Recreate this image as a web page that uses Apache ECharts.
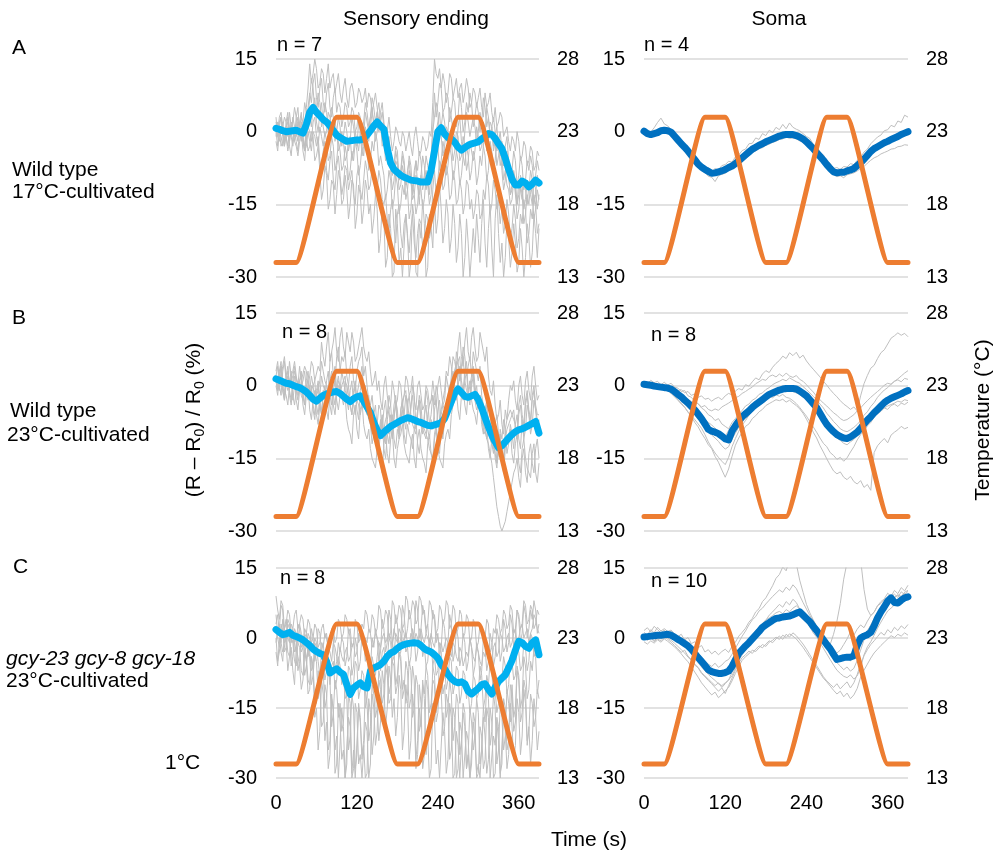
<!DOCTYPE html>
<html>
<head>
<meta charset="utf-8">
<script src="https://cdn.jsdelivr.net/npm/echarts@6/dist/echarts.min.js"></script>
<style>
html,body{margin:0;padding:0;background:#fff}
#chart{width:999px;height:862px}
</style>
</head>
<body>
<div id="chart"></div>
<script>
// Every trace spans 0 … 390 s with evenly spaced samples
// (sensory-ending traces every 2.5 s, soma traces and means every 5 s).
const T_END = 390;

// Stimulus: temperature ramp keypoints (s, °C)
const TEMP_TIME = [0, 30, 90, 120, 180, 210, 270, 300, 360, 390];
const TEMP_C    = [14, 14, 24, 24, 14, 14, 24, 24, 14, 14];

const X_TICKS = [0, 120, 240, 360];
const RATIO_TICKS = [-30, -15, 0, 15];
const TEMP_TICKS = [13, 18, 23, 28];

// ---------- A: wild type, 17°C-cultivated ----------
const MEAN_A_END = [
  0.7,0.5,0.2,0,0.1,0.2,0.3,0,-0.3,1.5,
  4,5,4,3.3,2.5,2,1.2,0.2,-0.7,-1.2,
  -1.6,-2,-1.9,-1.8,-1.7,-1.7,-1.5,-0.7,0.2,1.2,
  2,1.2,0.5,-3.5,-6.5,-7.8,-8.4,-9,-9.4,-9.7,
  -10,-10.1,-10.2,-10.4,-10.4,-10.4,-8,-4,0,0.8,
  -0.5,-1.2,-1.5,-2.2,-3.2,-3.8,-3.3,-2.8,-2.5,-2.3,
  -2.1,-1.5,-1,-0.4,-0.6,-1.4,-2.5,-3.5,-5.5,-7.8,
  -9.8,-11,-11,-10.2,-10.6,-11.4,-10.8,-10,-10.6
];
const TRACES_A_END = [
  [2,0,3,4,1,3,2,-1,4,1,2,5,3,0,1,3,2,0,5,9,
   14,10,12,15,13,9,10,13,12,8,11,14,9,11,12,8,10,12,8,6,
   9,11,7,5,9,10,8,5,6,9,8,6,7,9,5,8,7,4,6,8,
   5,2,4,6,2,-1,0,3,-1,-4,-2,1,0,-2,-3,0,-1,-4,-2,0,
   -3,-5,-1,1,-2,-5,-4,-1,-2,-4,-3,0,-1,6,15,12,11,13,9,12,
   10,6,8,12,11,7,9,11,7,9,10,6,8,11,9,5,6,9,8,5,
   7,9,5,3,8,5,6,8,4,2,5,1,2,4,3,-1,0,1,-2,-4,
   -1,-2,-4,0,-2,-6,-5,-2,-3,-7,-6,-3,-4,-8,-7,-4,-5],
  [1,2,-1,0,2,-2,0,3,1,-1,3,1,0,-2,2,4,-1,-3,1,5,
   8,6,10,12,7,5,9,11,6,4,8,10,5,3,7,9,4,6,5,1,
   3,6,5,1,2,5,4,0,1,4,3,0,2,6,4,1,3,7,5,2,
   4,6,2,-1,-3,-1,-6,-2,-5,-9,-8,-4,-6,-10,-9,-5,-7,-11,-8,-6,
   -10,-13,-8,-6,-11,-13,-9,-5,-7,-12,-10,-7,-6,1,8,3,6,10,9,4,
   5,8,7,2,4,7,6,1,3,8,5,0,2,6,4,8,6,1,3,6,
   4,0,2,7,5,1,3,-1,1,-4,-2,-7,-5,-3,-8,-12,-10,-6,-9,-13,
   -12,-8,-10,-15,-13,-9,-11,-16,-14,-10,-12,-8,-10,-15,-13,-9,-11],
  [3,-1,1,3,0,-2,2,4,-1,2,1,-1,3,5,0,-2,2,6,4,3,
   7,11,9,4,5,8,6,1,3,6,4,0,2,5,3,-2,0,3,1,-3,
   -1,2,0,-4,-2,3,1,-2,-3,2,0,-3,-1,4,2,0,3,5,1,2,
   4,0,2,4,1,-3,-4,-1,-5,-9,-7,-3,-4,-10,-8,-4,-6,-11,-9,-5,
   -7,-12,-10,-6,-8,-4,-6,-11,-9,-5,-7,-9,-5,0,3,6,4,-1,1,4,
   2,-2,0,5,3,0,-1,-4,1,3,-2,-5,0,4,2,-1,-1,3,1,-2,
   0,4,2,-3,-1,5,3,-1,1,3,0,-4,-2,0,-4,-7,-3,-1,-6,-10,
   -8,-4,-6,-11,-9,-5,-7,-12,-10,-6,-8,-5,-7,-11,-9,-6,-8],
  [0,-3,2,3,-1,-3,1,2,-2,1,0,-2,1,3,-1,1,-2,-4,0,2,
   3,1,5,7,2,0,4,6,1,-1,0,4,3,1,-1,2,0,-4,-3,0,
   -2,-6,-5,-2,-1,-6,-4,0,-2,-4,0,-5,-3,1,-1,-2,1,4,2,-2,
   0,3,2,-3,-2,-6,-5,-3,-8,-12,-10,-6,-7,-12,-11,-7,-9,-14,-12,-8,
   -10,-14,-13,-9,-11,-15,-9,-12,-12,-8,-10,-13,-8,-5,-2,0,2,4,-1,-5,
   -3,1,0,-4,-2,-6,-4,0,-1,-6,-5,-1,-3,-8,-6,-2,-2,-6,-4,1,
   -1,-4,-3,2,0,-4,-2,2,1,-3,-1,1,-3,-5,-2,-7,-6,-4,-9,-13,
   -11,-9,-13,-15,-10,-12,-14,-10,-12,-15,-11,-13,-15,-10,-12,-16,-13],
  [-1,2,0,-3,-2,0,-1,-3,0,-1,-3,0,-1,2,1,-1,-2,-4,-1,1,
   0,-2,2,3,-1,-3,1,-1,-3,0,-2,-6,-5,-1,-3,-8,-6,-2,-4,-8,
   -7,-3,-5,-10,-8,-4,-6,-2,-4,-9,-7,-3,-5,-1,-3,-8,-6,-2,-4,0,
   -2,-7,-5,-7,-9,-14,-12,-8,-10,-16,-14,-9,-11,-17,-15,-11,-13,-10,-12,-18,
   -16,-11,-13,-17,-15,-10,-12,-16,-14,-9,-11,-15,-13,-8,-5,-1,-3,-8,-6,-2,
   -4,-9,-7,-3,-5,-10,-8,-4,-6,-11,-9,-5,-7,-3,-5,-10,-8,-4,-6,-11,
   -9,-5,-7,-3,-5,-10,-8,-2,-4,-8,-6,-1,-3,-7,-5,-10,-8,-11,-12,-15,
   -14,-10,-12,-18,-16,-11,-13,-19,-17,-13,-15,-11,-13,-18,-16,-12,-14],
  [1,-1,-2,1,0,-3,-1,1,-3,-5,-1,0,-2,-4,0,2,-1,-4,-3,0,
   -2,-4,0,-1,-3,-1,-6,-8,-4,-2,-8,-10,-6,-4,-10,-12,-7,-5,-9,-13,
   -11,-7,-8,-12,-10,-8,-13,-15,-9,-7,-12,-14,-10,-6,-8,-12,-11,-7,-9,-13,
   -12,-8,-10,-14,-15,-13,-18,-21,-16,-14,-20,-23,-17,-15,-21,-24,-19,-17,-22,-25,
   -20,-17,-23,-26,-21,-18,-19,-24,-22,-17,-18,-22,-20,-12,-8,-13,-10,-6,-7,-12,
   -11,-7,-9,-14,-13,-8,-10,-15,-14,-10,-12,-17,-15,-10,-11,-16,-14,-18,-16,-12,
   -13,-18,-17,-12,-14,-9,-11,-17,-15,-10,-12,-16,-14,-19,-16,-21,-19,-14,-17,-22,
   -20,-15,-18,-24,-22,-17,-19,-14,-16,-23,-21,-16,-18,-13,-15,-21,-19],
  [-2,-4,0,-1,-3,0,-1,-4,-2,1,0,-2,-3,-5,-2,0,-4,-6,-1,-4,
   -3,0,-1,-6,-5,-3,-8,-14,-12,-7,-9,-16,-14,-10,-11,-17,-13,-8,-10,-15,
   -14,-9,-12,-18,-15,-10,-11,-20,-17,-11,-13,-19,-16,-10,-12,-17,-15,-21,-18,-13,
   -16,-25,-22,-15,-18,-28,-26,-17,-20,-30,-29,-16,-19,-27,-24,-30,-30,-17,-21,-30,
   -27,-15,-18,-29,-30,-19,-22,-14,-19,-30,-28,-17,-20,-24,-14,-21,-18,-11,-16,-23,
   -20,-14,-17,-25,-22,-15,-19,-27,-24,-17,-21,-30,-26,-18,-23,-30,-30,-20,-25,-17,
   -22,-27,-19,-14,-23,-28,-20,-15,-24,-30,-18,-13,-21,-27,-23,-30,-26,-18,-22,-28,
   -25,-19,-23,-29,-27,-20,-24,-30,-26,-19,-22,-28,-25,-17,-21,-26,-20]
];

const MEAN_A_SOMA = [
  0.1,-0.4,-0.6,-0.4,-0.2,0.2,0.3,0.2,-0.1,-0.9,
  -1.7,-2.5,-3.2,-4,-4.9,-5.8,-6.7,-7.3,-7.8,-8.2,
  -8.6,-8.5,-8.3,-8.1,-7.8,-7.4,-7.1,-6.6,-6,-5.4,
  -4.8,-4.2,-3.6,-3.2,-2.8,-2.5,-2.1,-1.8,-1.5,-1.2,
  -0.9,-0.7,-0.6,-0.6,-0.6,-0.8,-1.1,-1.5,-2.1,-2.8,
  -3.5,-4.3,-5.1,-5.9,-6.8,-7.6,-8.3,-8.5,-8.4,-8.4,
  -8.1,-7.9,-7.6,-7,-6.4,-5.7,-4.9,-4.1,-3.5,-3.1,
  -2.7,-2.3,-2,-1.6,-1.3,-1,-0.6,-0.3,0
];
const TRACES_A_SOMA = [
  [0.6,0.2,-0.1,0.8,1.9,2.8,1.6,1.2,0.4,-0.3, -1.0,-1.6,-2.8,-3.3,-4.6,-5.0,-6.2,-6.6,-7.5,-7.4, -8.2,-7.6,-7.9,-7.0,-6.8,-6.1,-6.3,-5.2,-4.8,-3.9,
   -3.6,-2.5,-2.4,-1.3,-1.6,-0.4,-0.8,0.3,-0.2,0.9, 0.4,1.5,0.6,1.8,0.9,0.5,0.2,-0.4,-1.0,-1.4, -2.6,-3.1,-4.4,-4.8,-6.1,-6.5,-7.6,-7.4,-7.8,-7.2,
   -7.3,-6.6,-6.8,-5.9,-5.3,-4.2,-3.6,-2.5,-1.8,-1.1, -0.7,0.2,0.4,1.3,1.0,2.2,1.9,3.4,3.0],
  [-0.2,-0.8,-0.5,-1.0,-0.4,-0.3,0.1,-0.4,-0.6,-1.5, -2.2,-3.1,-3.6,-4.7,-5.3,-6.5,-7.0,-8.1,-8.3,-9.2, -9.4,-10.3,-9.1,-8.8,-8.6,-8.0,-7.8,-7.1,-6.9,-6.2,
   -5.6,-5.0,-4.3,-4.0,-3.5,-3.3,-2.8,-2.6,-2.2,-2.0, -1.6,-1.5,-1.1,-1.4,-1.3,-1.5,-1.9,-2.2,-2.9,-3.4, -4.1,-5.0,-5.6,-6.6,-7.3,-8.2,-8.8,-9.3,-9.1,-9.5,
   -8.9,-8.7,-8.5,-8.1,-7.6,-7.2,-6.5,-5.9,-5.4,-5.1, -4.6,-4.3,-4.0,-3.6,-3.5,-3.1,-3.0,-2.7,-2.8],
  [0.3,-0.2,-0.9,-0.1,-0.6,0.5,0.0,0.6,0.2,-0.6, -1.4,-2.2,-3.5,-3.7,-4.5,-5.6,-6.4,-7.5,-7.6,-8.5, -8.9,-8.3,-8.7,-8.4,-7.5,-7.6,-6.8,-6.9,-5.7,-5.6,
   -4.5,-4.4,-3.3,-3.5,-2.5,-2.8,-1.8,-2.1,-1.2,-1.5, -0.6,-1.0,-0.3,-0.9,-0.2,-1.1,-0.8,-1.8,-1.8,-3.1, -3.2,-4.6,-4.8,-6.2,-6.5,-7.9,-8.0,-8.8,-8.1,-8.7,
   -7.8,-8.2,-7.3,-7.3,-6.1,-6.0,-4.6,-4.4,-3.2,-3.4, -2.4,-2.6,-1.7,-1.9,-1.0,-1.3,-0.3,-0.6,0.3],
  [-0.3,-0.7,-0.4,-0.7,0.1,-0.1,0.5,-0.2,-0.4,-1.2, -2.1,-2.7,-3.0,-4.3,-5.2,-6.0,-7.1,-7.0,-8.1,-8.0, -8.9,-8.7,-8.6,-8.3,-8.2,-7.7,-7.4,-6.4,-6.3,-5.9,
   -5.1,-4.6,-3.9,-3.0,-2.9,-2.3,-2.4,-1.6,-1.7,-0.9, -1.2,-0.5,-0.8,-0.4,-0.7,-0.6,-1.3,-1.4,-2.4,-2.6, -3.8,-4.1,-5.4,-5.7,-7.1,-7.4,-8.6,-8.3,-8.7,-8.2,
   -8.4,-7.7,-7.9,-6.8,-6.6,-5.5,-5.1,-3.9,-3.6,-2.9, -2.9,-2.1,-2.2,-1.4,-1.5,-0.8,-0.9,-0.1,-0.3]
];

// ---------- B: wild type, 23°C-cultivated ----------
const MEAN_B_END = [
  1.4,1.1,0.8,0.5,0.4,0.1,-0.2,-0.4,-0.8,-1.3,
  -2.0,-2.8,-3.2,-2.6,-2.0,-1.7,-1.5,-1.3,-1.2,-1.6,
  -2.2,-2.8,-3.3,-2.7,-2.3,-2.1,-3.2,-4.4,-5.6,-7.6,
  -9.2,-10.3,-9.6,-9.0,-8.4,-8.0,-7.6,-7.2,-6.9,-6.6,
  -6.8,-7.1,-7.4,-7.6,-7.9,-8.2,-8.3,-8.1,-7.9,-7.6,
  -6.8,-5.0,-3.3,-1.5,-0.7,-1.4,-2.2,-2.4,-2.1,-1.8,
  -2.9,-4.6,-6.6,-8.5,-10.2,-11.6,-12.8,-12.4,-11.6,-10.8,
  -10.1,-9.5,-9.1,-8.9,-8.6,-8.2,-7.8,-7.4,-9.8
];
const TRACES_B_END = [
  [3,5,1,2,4,6,2,0,5,2,3,5,2,0,4,1,1,4,3,0,
   2,5,4,1,1,4,3,9,6,4,8,11,5,7,9,12,7,5,10,12,
   8,6,11,9,7,11,9,5,6,8,10,12,8,6,5,7,3,0,1,3,
   -1,1,-3,-5,0,2,-2,-5,-4,1,-1,-4,-3,1,0,-4,-2,2,1,-2,
   -1,2,-3,-5,0,1,-2,-5,-4,0,-1,-4,-3,1,-2,-4,0,2,-1,-4,
   -3,2,0,-2,2,6,5,3,8,11,6,4,9,12,7,5,10,12,8,5,
   6,11,9,7,5,8,2,-1,-2,1,-4,-7,-6,-3,-8,-10,-5,-7,-3,0,
   -1,1,-3,-5,0,2,-2,-4,1,3,-1,-3,2,4,0,-3,-2],
  [1,-1,3,5,0,-2,2,4,-1,-3,1,3,3,0,0,2,-2,-4,1,3,
   -1,2,0,-3,-3,-1,1,5,3,1,0,-2,5,7,2,0,6,8,3,6,
   5,7,2,0,4,6,1,-1,3,5,6,8,2,4,0,-3,-4,-2,-6,-10,
   -8,-4,-5,-11,-9,-7,-6,-2,-4,-9,-7,-3,-5,-10,-8,-4,-6,-2,-3,-7,
   -5,0,-2,-8,-6,-2,-4,-9,-7,-1,-3,-8,-6,-2,-4,0,-2,-7,-5,-3,
   -1,3,2,6,4,0,1,7,5,1,3,8,6,2,4,6,2,7,5,3,
   1,4,-2,-4,-5,-3,-9,-11,-12,-14,-10,-16,-14,-9,-11,-7,-9,-14,-12,-8,
   -10,-13,-8,-6,-11,-13,-7,-11,-9,-4,-6,-10,-8,-3,-5,-9,-7],
  [2,0,-1,3,1,-1,-2,-4,0,2,-3,0,-1,-3,1,3,-2,-4,0,-1,
   -3,-1,-5,-7,-2,0,-4,-6,-1,-3,1,3,-2,-4,2,4,-1,1,0,-2,
   -3,1,0,-2,-4,-6,-2,0,-5,-7,-1,1,-3,-5,-6,-4,-8,-12,-10,-8,
   -12,-14,-9,-7,-13,-15,-10,-12,-8,-6,-11,-13,-9,-11,-7,-5,-10,-12,-8,-10,
   -11,-13,-9,-7,-12,-14,-10,-8,-8,-10,-11,-13,-13,-15,-10,-8,-12,-14,-9,-11,
   -7,-5,-4,-2,-1,1,3,5,0,2,4,6,1,-1,-2,0,2,4,0,-2,
   -3,-5,-6,-8,-9,-11,-12,-14,-16,-19,-22,-25,-27,-29,-30,-30,-28,-26,-24,-22,
   -20,-18,-17,-15,-19,-21,-15,-13,-18,-20,-14,-12,-16,-18,-13,-11,-15],
  [0,-2,2,4,-1,-3,1,3,-2,-4,0,2,-3,-5,-1,1,-4,-6,-2,0,
   -5,-7,-3,-1,-6,-8,-4,-6,-2,0,-5,-7,-1,1,-4,-6,-2,0,0,-2,
   -4,-2,-7,-9,-10,-12,-6,-4,-9,-11,-5,-3,-8,-10,-11,-9,-13,-15,-15,-17,
   -13,-11,-16,-18,-12,-10,-14,-16,-11,-9,-15,-17,-13,-11,-10,-8,-12,-14,-14,-16,
   -12,-10,-15,-17,-11,-9,-13,-15,-16,-18,-12,-10,-14,-16,-11,-9,-13,-15,-15,-17,
   -12,-10,-9,-11,-6,-4,-3,-1,-5,-7,-2,0,-4,-6,-1,1,-3,-5,-6,-8,
   -4,-2,-7,-9,-10,-8,-13,-15,-11,-9,-15,-17,-12,-10,-16,-18,-13,-11,-11,-9,
   -14,-16,-12,-10,-16,-18,-13,-11,-15,-17,-17,-19,-14,-12,-18,-20,-16],
  [2,4,0,-2,3,5,1,-1,-1,1,2,4,0,-2,-2,0,1,3,-1,-3,
   -3,-1,-1,1,-4,-6,-2,2,0,-1,-3,-1,1,3,-2,-4,0,2,-1,3,
   1,-1,-2,0,-4,-6,-1,1,-3,-4,-6,-4,-2,0,-5,-7,-8,-10,-6,-4,
   -9,-11,-7,-9,-5,-3,-8,-10,-6,-8,-4,-2,-7,-9,-5,-3,-3,-1,-6,-8,
   -4,-2,-7,-9,-5,-3,-8,-10,-6,-4,-9,-11,-7,-9,-5,-3,-8,-10,-6,-4,
   -4,-6,-2,0,1,3,-1,-3,2,4,-1,-3,1,3,-2,-4,0,2,-3,-5,
   -5,-3,-8,-10,-6,-4,-9,-11,-11,-13,-8,-6,-10,-12,-13,-15,-9,-7,-7,-5,
   -5,-7,-8,-10,-4,-2,-6,-8,-3,-1,-5,-7,-2,0,-4,-6,-6],
  [1,-1,2,4,-1,-3,0,2,1,3,-2,-4,-1,1,0,-2,-3,-1,-1,1,
   -2,0,-4,-6,-1,1,-3,-5,-5,-3,-2,0,-4,-6,-1,1,-3,-5,-2,0,
   0,2,-3,-5,-1,1,-4,-6,-2,0,2,4,-1,-3,-4,-2,-6,-8,-9,-11,
   -11,-13,-8,-6,-10,-12,-7,-5,-9,-11,-6,-4,-8,-10,-5,-3,-7,-9,-4,-2,
   -6,-8,-8,-10,-5,-3,-7,-9,-9,-11,-6,-4,-4,-2,-7,-9,-5,-3,-8,-10,
   -6,-4,-3,-1,0,2,2,4,4,6,1,-1,3,5,-1,-3,1,3,-2,0,
   -4,-2,-6,-8,-9,-11,-7,-5,-10,-12,-14,-16,-12,-10,-15,-17,-11,-9,-9,-7,
   -7,-5,-9,-11,-6,-4,-8,-10,-4,-2,-6,-8,-3,-1,-5,-7,-8]
];

const MEAN_B_SOMA = [
  0.3,0.2,0.1,-0.1,-0.2,-0.3,-0.4,-0.5,-0.7,-1.2,
  -1.8,-2.3,-3.0,-3.6,-4.3,-5.0,-5.9,-6.8,-7.9,-9.0,
  -9.4,-9.6,-9.9,-10.4,-11.0,-11.2,-9.4,-8.3,-7.3,-6.4,
  -5.8,-5.2,-4.5,-3.9,-3.4,-2.9,-2.3,-1.8,-1.5,-1.2,
  -0.9,-0.7,-0.6,-0.6,-0.6,-0.7,-1.1,-1.6,-2.1,-2.9,
  -3.7,-4.5,-5.7,-6.9,-8.0,-8.8,-9.5,-10.1,-10.5,-10.8,
  -10.9,-10.6,-10.1,-9.6,-8.8,-7.9,-7.1,-6.4,-5.6,-4.9,
  -4.2,-3.5,-3.0,-2.6,-2.3,-2.0,-1.7,-1.3,-1.0
];
const TRACES_B_SOMA = [
  [0.2,-0.3,0.5,-0.1,0.3,-0.5,0.1,-0.2,-0.6,-0.4, -1.1,-0.8,-1.5,-1.2,-2.0,-1.7,-2.4,-2.1,-2.8,-2.6, -3.2,-2.7,-2.4,-2.9,-2.1,-1.6,-1.9,-1.1,-0.6,-0.9,
   0.2,-0.1,0.8,1.6,1.2,2.4,3.1,2.7,3.8,4.6, 5.2,6.1,5.6,6.8,6.2,6.9,5.7,6.3,5.1,4.2, 3.4,2.6,1.8,0.9,0.1,-0.8,-1.6,-2.3,-3.1,-3.8,
   -4.3,-4.9,-4.4,-5.2,-2.1,0.4,2.1,3.6,4.2,5.6, 6.8,7.4,8.6,9.8,10.3,10.9,10.4,10.8,10.1],
  [0.5,0.1,0.3,-0.4,0.2,-0.2,-0.6,-0.3,-0.9,-1.4, -1.9,-1.6,-2.5,-2.9,-3.3,-3.1,-3.8,-4.4,-4.1,-4.9, -5.2,-4.8,-5.1,-4.4,-4.0,-3.6,-3.1,-2.5,-2.2,-1.6,
   -1.2,-0.7,-0.3,0.4,0.8,1.3,1.1,1.9,2.2,1.8, 2.4,1.9,2.6,2.0,1.7,2.1,1.3,0.9,0.2,-0.6, -1.3,-2.2,-2.9,-3.6,-4.2,-4.9,-5.6,-6.1,-6.8,-7.2,
   -7.0,-6.5,-6.0,-5.2,-4.6,-3.8,-3.1,-2.4,-1.8,-1.2, -0.6,0.1,0.5,0.3,0.9,1.2,0.8,1.5,1.3],
  [0.8,0.4,1.1,0.6,0.9,0.2,0.7,0.1,0.5,-0.3, -0.5,-1.2,-1.0,-2.1,-2.4,-3.3,-3.7,-4.6,-5.1,-6.0, -6.4,-7.2,-6.8,-7.9,-8.4,-8.9,-7.6,-6.8,-5.9,-5.1,
   -4.2,-3.8,-3.0,-2.6,-1.8,-1.5,-0.8,-0.4,0.2,0.6, 0.9,1.3,1.0,1.6,1.2,0.8,0.5,-0.2,-0.8,-1.5, -2.2,-2.9,-3.8,-4.6,-5.7,-6.5,-7.4,-8.1,-8.9,-9.3,
   -9.5,-9.1,-8.6,-8.0,-7.2,-6.1,-5.4,-4.3,-3.5,-2.4, -1.6,-0.9,-0.4,0.3,0.9,1.4,2.0,2.6,3.1],
  [0.1,0.4,-0.2,0.2,-0.4,-0.1,-0.6,-0.3,-0.9,-1.3, -2.1,-2.6,-3.3,-3.9,-4.8,-5.4,-6.5,-7.1,-8.3,-9.4, -10.2,-10.8,-11.5,-12.4,-13.1,-12.6,-11.0,-9.8,-8.6,-7.5,
   -6.8,-6.1,-5.2,-4.6,-4.0,-3.6,-3.1,-2.4,-2.1,-1.6, -1.5,-1.1,-1.3,-0.9,-1.2,-1.5,-1.8,-2.4,-2.9,-3.6, -4.5,-5.2,-6.4,-7.5,-8.6,-9.4,-10.1,-10.8,-11.3,-11.9,
   -12.2,-11.6,-11.1,-10.4,-9.7,-8.8,-8.0,-7.1,-6.3,-5.8, -5.1,-4.6,-4.2,-3.9,-3.6,-3.2,-3.4,-2.9,-3.1],
  [-0.2,0.3,-0.5,-0.1,-0.8,-0.4,-1.1,-0.7,-1.5,-2.1, -2.9,-3.6,-4.4,-5.5,-6.3,-7.6,-8.5,-9.8,-10.9,-12.2, -13.0,-14.6,-15.8,-17.4,-18.9,-17.2,-14.6,-12.3,-10.8,-9.6,
   -8.4,-7.9,-6.8,-6.2,-5.4,-4.9,-4.1,-3.7,-3.3,-2.9, -3.1,-2.8,-3.4,-3.0,-3.6,-4.1,-4.8,-5.7,-6.9,-8.2, -9.6,-10.8,-12.4,-13.7,-15.1,-16.4,-17.6,-18.2,-17.8,-18.9,
   -19.4,-18.7,-19.8,-20.3,-19.6,-21.0,-20.4,-21.6,-13.8,-12.4, -11.6,-10.9,-11.8,-10.2,-9.6,-9.1,-8.4,-8.9,-8.6],
  [0.4,-0.1,0.2,-0.5,0.1,-0.7,-0.3,-1.0,-1.6,-2.3, -3.0,-3.8,-4.5,-5.4,-6.2,-7.0,-7.9,-8.8,-10.1,-11.6, -12.8,-13.9,-14.8,-15.6,-16.3,-14.8,-12.6,-10.9,-9.4,-8.1,
   -7.2,-6.1,-5.3,-4.4,-3.8,-3.1,-2.8,-2.2,-2.5,-1.9, -2.2,-1.8,-2.4,-2.6,-3.1,-3.7,-4.5,-5.4,-6.3,-7.4, -8.5,-9.6,-10.8,-11.9,-12.6,-13.8,-14.4,-15.2,-14.8,-15.6,
   -14.9,-13.7,-12.6,-11.2,-10.1,-9.4,-8.3,-7.6,-6.4,-5.8, -5.3,-4.6,-4.9,-4.1,-3.8,-4.3,-3.6,-3.9,-3.4],
  [0.6,0.2,0.7,0.1,0.4,-0.2,0.3,-0.5,-0.1,-0.8, -1.3,-1.9,-2.4,-3.1,-3.8,-4.3,-5.2,-5.8,-6.9,-7.6, -8.1,-8.8,-9.4,-9.9,-10.5,-9.2,-8.4,-7.6,-7.0,-6.3,
   -5.6,-4.8,-4.2,-3.7,-3.3,-2.8,-2.4,-1.9,-1.6,-1.2, -1.0,-0.6,-0.9,-0.4,-0.8,-1.1,-1.6,-2.2,-2.8,-3.6, -4.1,-5.0,-5.9,-6.8,-7.6,-8.3,-9.0,-9.6,-10.1,-10.4,
   -10.3,-10.0,-9.7,-9.1,-8.6,-7.9,-7.2,-6.3,-5.6,-4.9, -4.2,-3.6,-3.1,-2.6,-2.2,-1.8,-1.5,-1.1,-0.8]
];

// ---------- C: gcy-23 gcy-8 gcy-18, 23°C-cultivated ----------
const MEAN_C_END = [
  1.8,1.2,0.7,0.9,1.2,0.6,0.3,0,-0.4,-1.0,
  -1.6,-2.4,-2.9,-3.3,-3.6,-5.0,-7.5,-7.0,-6.6,-7.3,
  -7.8,-10.0,-12.1,-10.7,-10.1,-9.6,-10.4,-10.7,-7.1,-6.4,
  -6.1,-5.7,-5.0,-3.9,-3.2,-2.9,-2.2,-1.7,-1.4,-1.2,
  -1.1,-1.0,-1.1,-1.6,-2.3,-2.7,-3.0,-3.6,-4.3,-5.7,
  -6.6,-7.8,-8.7,-9.3,-9.6,-9.4,-9.8,-11.4,-12.0,-11.4,
  -10.8,-10.0,-9.8,-11.0,-12.0,-10.5,-9.3,-8.6,-7.9,-6.4,
  -4.8,-2.6,-0.7,-1.0,-1.8,-2.2,-1.0,-0.4,-3.6
];
const TRACES_C_END = [
  [9,6,4,8,7,2,3,6,5,1,2,5,6,2,3,5,4,0,1,4,
   3,-1,0,3,2,-2,-1,2,3,0,1,-3,-2,1,2,-1,0,4,3,0,
   1,5,4,1,2,-2,-1,4,3,-1,0,3,2,6,5,2,1,5,4,1,
   2,7,6,2,3,6,5,0,1,8,7,3,4,7,6,2,3,9,8,4,
   5,8,7,3,4,9,8,5,6,2,3,8,7,4,5,1,2,7,6,3,
   4,8,7,2,3,7,6,1,2,6,5,0,1,5,4,-1,0,4,3,-2,
   -1,3,2,-1,0,4,3,-3,-2,2,1,5,4,1,2,6,5,2,3,7,
   6,1,2,6,5,2,3,8,7,3,4,7,6,2,3,6,5],
  [3,5,1,-1,4,2,0,3,2,0,-1,2,1,-1,3,1,0,-3,-2,1,
   0,-2,-3,0,-1,-3,-4,-1,-2,1,0,-2,-3,-5,-1,-2,-4,-6,-2,-4,
   -5,-3,-2,-5,-4,-2,-1,-4,-3,1,0,-1,-2,0,-1,2,1,-2,-1,1,
   0,-1,-2,0,1,-1,-1,1,0,-2,2,0,-1,2,1,-1,0,1,-1,-2,
   1,0,-1,1,0,-2,2,0,-1,1,0,-1,1,-1,-2,1,0,-2,-1,-3,
   -3,0,-1,-3,-4,-1,-2,-4,-5,-2,-3,-6,-6,-3,-4,0,-2,-4,-5,-2,
   -3,-5,-6,-3,-4,-1,-2,-6,-5,-2,-1,-4,-3,1,0,-3,-2,0,1,-2,
   -1,1,2,-1,0,2,3,0,1,2,-1,1,2,5,4,2,1],
  [2,0,-2,3,1,2,4,0,-1,3,2,-1,-3,1,0,-3,-2,-1,-5,-2,
   -3,-7,-6,-1,-2,-5,-8,-3,-4,-9,-7,-4,-10,-6,-5,-11,-9,-4,-6,-10,
   -8,-13,-12,-6,-7,-12,-10,-5,-6,-13,-11,-7,-8,-15,-13,-8,-9,-4,-6,-8,
   -4,-1,-7,-3,-2,-6,-5,0,-1,-5,-4,1,0,-4,-3,2,1,-3,-2,-6,
   -4,2,0,-5,-3,2,1,-4,-2,-6,-5,0,-1,-6,-4,-8,-7,-1,-3,-8,
   -6,-11,-9,-4,-5,-12,-10,-6,-7,-14,-12,-7,-8,-13,-11,-16,-14,-8,-9,-13,
   -12,-6,-8,-15,-13,-8,-10,-5,-7,-13,-11,-16,-14,-8,-9,-4,-6,-12,-10,-4,
   -5,-9,-8,-2,-3,-7,-6,-1,-2,-7,-5,1,0,-4,-3,0,-1],
  [-1,2,3,-1,-3,-2,1,-3,-4,0,-1,-5,-6,-1,-2,-7,-8,-3,-4,-9,
   -10,-4,-6,-13,-14,-7,-9,-19,-18,-10,-12,-24,-22,-13,-15,-29,-27,-14,-18,-26,
   -24,-30,-30,-17,-19,-30,-28,-14,-16,-27,-25,-30,-30,-18,-20,-30,-27,-12,-15,-23,
   -20,-9,-11,-18,-16,-6,-8,-14,-13,-5,-6,-12,-10,-3,-4,-11,-9,-14,-12,-5,
   -7,-17,-15,-8,-10,-20,-18,-10,-12,-6,-8,-16,-14,-9,-10,-18,-16,-9,-11,-21,
   -19,-12,-14,-26,-24,-15,-17,-30,-28,-18,-20,-30,-30,-20,-22,-30,-27,-16,-18,-30,
   -29,-19,-21,-28,-26,-15,-17,-30,-30,-21,-23,-17,-19,-29,-27,-13,-15,-24,-22,-10,
   -12,-20,-18,-7,-9,-18,-16,-9,-11,-22,-20,-12,-14,-19,-17,-11,-13],
  [0,-5,-3,1,2,-3,-2,1,0,-6,-4,0,-1,-7,-5,0,-2,-8,-6,-2,
   -4,-10,-8,-3,-5,-13,-11,-5,-7,-15,-13,-7,-9,-19,-16,-9,-11,-17,-14,-20,
   -18,-10,-13,-24,-21,-12,-15,-28,-25,-14,-17,-25,-22,-11,-14,-22,-19,-10,-12,-17,
   -15,-7,-9,-14,-12,-4,-6,-12,-10,-1,-3,-10,-8,-3,-5,-13,-11,-5,-7,-15,
   -13,-6,-9,-26,-22,-10,-14,-28,-25,-9,-11,-21,-18,-6,-8,-16,-13,-4,-6,-12,
   -10,-17,-15,-9,-12,-22,-19,-12,-14,-25,-22,-14,-16,-28,-25,-15,-18,-24,-21,-13,
   -16,-27,-24,-15,-18,-10,-13,-23,-20,-12,-15,-27,-24,-14,-17,-24,-21,-11,-14,-18,
   -10,-17,-15,-6,-8,-15,-13,-4,-6,-13,-11,-5,-7,-2,-4,-12,-9],
  [5,1,2,7,6,-1,0,4,3,-1,1,-3,-2,3,2,-2,-1,2,1,-4,
   -2,2,0,-5,-3,2,1,-3,-1,-6,-4,0,-2,2,0,-7,-5,-1,-3,0,
   -1,-6,-4,2,0,-8,-6,0,-2,-7,-5,1,-1,-5,-3,-9,-7,0,-2,2,
   0,-5,-3,4,2,-3,-1,6,4,-1,1,5,3,-2,0,7,5,0,2,6,
   4,-1,1,8,6,0,2,7,5,1,3,-2,0,6,4,-1,1,-4,-2,4,
   2,-3,-1,5,3,-5,-3,2,0,-6,-4,1,-1,-7,-5,0,-2,-8,-6,-1,
   -3,-9,-7,0,-2,-7,-5,1,-1,-6,-4,2,0,-5,-3,4,2,-3,-1,5,
   3,-2,0,6,4,-1,1,7,5,0,2,6,4,8,6,1,3],
  [-3,-6,0,-3,-5,1,-1,-7,-4,-2,-7,-10,-2,-4,-6,-11,-9,-3,-5,-12,
   -11,-4,-7,-17,-15,-24,-20,-9,-12,-22,-18,-28,-25,-12,-16,-24,-21,-30,-30,-15,
   -19,-30,-27,-12,-14,-29,-24,-30,-30,-15,-18,-26,-23,-30,-29,-13,-16,-25,-21,-11,
   -14,-22,-18,-7,-10,-19,-15,-6,-9,-17,-13,-21,-17,-8,-11,-24,-20,-10,-14,-26,
   -22,-12,-16,-28,-25,-15,-19,-9,-13,-25,-21,-30,-28,-14,-17,-27,-24,-30,-30,-16,
   -20,-29,-26,-14,-17,-30,-29,-20,-23,-30,-30,-16,-19,-28,-25,-30,-30,-18,-22,-29,
   -27,-30,-30,-17,-21,-29,-26,-15,-18,-30,-29,-18,-22,-30,-30,-16,-20,-28,-25,-14,
   -19,-26,-23,-13,-16,-25,-21,-11,-14,-23,-19,-27,-22,-13,-17,-24,-20]
];

const MEAN_C_SOMA = [
  0.2,0.3,0.4,0.5,0.6,0.6,0.7,0.8,0.6,0.2,
  -0.3,-0.7,-1.2,-1.7,-2.4,-3.3,-4.2,-5.0,-5.9,-6.8,
  -7.2,-7.4,-7.6,-7.6,-7.4,-7.1,-6.1,-4.7,-3.3,-2.5,
  -1.7,-1.0,-0.2,0.6,1.4,2.3,2.8,3.3,3.8,4.2,
  4.3,4.5,4.6,4.7,5.0,5.3,5.6,4.9,4.2,3.5,
  2.5,1.6,0.6,-0.4,-1.4,-2.3,-3.5,-4.6,-4.4,-4.2,
  -4.1,-4.1,-3.8,-1.6,0.0,0.4,0.7,1.2,2.6,4.3,
  5.6,6.7,7.9,8.6,7.6,7.5,8.1,8.6,8.8
];
const TRACES_C_SOMA = [
  [1.2,0.6,1.8,1.1,2.3,1.5,2.0,1.4,1.7,0.9, 0.3,0.8,-0.4,0.1,-1.2,-0.8,-2.1,-1.6,-3.0,-2.5, -3.4,-2.8,-3.6,-2.9,-2.4,-3.1,-1.8,-0.9,0.4,1.2,
   2.1,3.4,4.2,5.6,6.3,7.8,8.6,9.9,11.2,12.8, 13.6,15.2,14.4,16.8,17.5,15.9,12.4,9.8,7.2,5.4, 3.9,2.6,1.4,0.6,-0.8,-1.5,-2.4,-3.2,-2.6,-1.4,
   -0.2,1.3,0.6,1.9,2.8,2.2,3.6,4.8,5.5,6.9, 7.8,8.4,9.6,8.9,10.2,9.5,10.8,10.1,11.3],
  [0.4,-0.3,0.2,-0.6,0.1,-0.2,0.5,0.0,-0.5,-1.1, -1.8,-2.5,-3.2,-4.1,-4.8,-5.6,-6.3,-7.4,-8.1,-8.8, -9.5,-10.2,-9.6,-10.6,-9.8,-9.0,-7.4,-5.8,-4.3,-3.0,
   -2.1,-0.8,0.3,1.4,2.2,3.1,3.8,4.9,5.6,6.4, 7.2,6.6,7.8,7.1,8.3,7.6,6.2,5.1,4.3,3.2, 2.1,1.4,0.2,-0.9,-2.1,-1.4,0.8,3.6,7.4,12.6,
   16.2,18.5,17.3,19.0,16.8,10.4,6.2,4.8,5.6,6.9, 7.4,8.2,7.6,8.8,9.4,8.7,9.9,9.3,10.0],
  [-0.4,0.3,-0.1,0.6,0.2,0.9,0.4,1.1,0.6,0.1, -0.6,-1.0,-1.7,-2.4,-3.2,-4.1,-5.3,-6.2,-7.0,-7.8, -8.5,-9.1,-9.8,-10.2,-9.6,-9.0,-8.1,-6.4,-4.8,-3.6,
   -2.5,-1.6,-0.9,0.1,0.8,1.6,2.3,2.9,3.6,4.0, 4.4,4.1,4.8,5.2,5.6,6.1,5.4,4.6,3.5,2.4, 1.1,0.2,-1.0,-2.2,-3.4,-4.6,-5.8,-6.9,-7.6,-8.2,
   -8.5,-7.9,-8.8,-8.1,-6.4,-3.6,-1.9,-0.8,0.6,2.1, 3.4,4.6,5.8,6.4,7.1,7.8,7.3,8.2,8.6],
  [-0.8,-1.3,-0.6,-1.1,-0.4,-0.9,-0.2,-0.7,-1.3,-1.9, -2.6,-3.4,-4.3,-5.1,-6.2,-7.3,-8.4,-9.6,-10.5,-11.4, -12.2,-11.6,-12.8,-12.1,-11.3,-10.6,-9.2,-7.6,-6.1,-4.8,
   -4.0,-3.4,-2.6,-2.9,-2.1,-1.4,-1.8,-0.9,-0.5,0.2, -0.3,0.6,0.1,0.9,0.4,-0.2,-1.1,-2.0,-3.1,-4.2, -5.3,-6.4,-7.5,-8.6,-9.4,-10.3,-11.2,-12.0,-11.4,-12.6,
   -11.8,-13.0,-12.2,-10.8,-8.4,-6.9,-5.6,-4.3,-3.2,-2.4, -1.6,-0.9,-0.2,0.5,0.1,0.8,0.4,1.1,0.6],
  [1.6,2.2,1.3,2.5,1.8,1.1,1.7,0.8,1.4,0.6, 0.1,-0.5,-0.2,-1.1,-1.8,-2.6,-3.3,-4.2,-4.9,-5.6, -6.1,-5.4,-6.3,-5.8,-5.0,-4.6,-3.5,-2.2,-0.9,0.4,
   1.5,2.8,3.9,4.6,5.8,6.4,7.3,8.1,8.9,9.6, 10.3,9.8,10.9,10.2,11.4,10.6,9.1,7.6,6.2,4.8, 3.6,2.3,1.1,-0.2,-1.4,-2.8,-4.1,-5.3,-6.0,-6.8,
   -6.2,-7.1,-6.5,-4.8,-2.6,-0.4,1.2,2.8,4.1,5.2, 6.3,7.4,6.8,7.9,8.6,9.2,8.4,9.6,9.1],
  [0.3,-0.5,0.1,-0.8,-0.2,-0.6,0.2,-0.3,-0.9,-1.6, -2.3,-3.1,-2.6,-3.9,-4.6,-5.8,-6.4,-7.6,-8.3,-9.1, -9.8,-10.6,-11.4,-10.7,-11.9,-10.2,-8.6,-6.9,-5.4,-4.2,
   -3.6,-2.8,-3.3,-2.4,-1.7,-2.1,-1.3,-0.6,-1.0,-0.2, 0.4,-0.3,0.8,0.2,1.1,0.5,-0.4,-1.3,-2.4,-3.6, -4.8,-5.9,-7.1,-8.3,-9.2,-9.9,-10.6,-9.8,-10.9,-10.1,
   -9.4,-10.7,-9.6,-7.8,-5.6,-3.8,-2.5,-1.4,-0.6,0.3, 1.2,0.6,1.8,1.1,2.3,1.6,2.6,2.0,2.9],
  [-0.1,0.5,0.0,0.8,0.3,1.0,0.6,1.3,0.8,0.4, -0.2,-0.8,-0.5,-1.6,-2.2,-3.1,-3.9,-4.8,-5.6,-6.4, -7.0,-7.6,-7.2,-8.1,-7.7,-7.4,-6.2,-4.9,-3.3,-2.1,
   -1.2,-0.3,0.6,1.5,2.4,3.1,3.9,4.3,4.8,5.4, 5.7,5.2,6.1,5.6,6.4,6.9,6.2,5.4,4.6,3.5, 2.4,1.3,0.2,-0.9,-1.8,-2.9,-3.8,-4.4,-4.1,-4.6,
   -4.3,-4.9,-4.0,-2.4,-0.6,0.8,1.6,2.7,3.9,5.3, 6.4,7.5,8.3,7.8,8.7,9.3,8.9,9.8,10.2]
];

// ---------- layout & styling ----------
const FONT = "'Liberation Sans', Arial, sans-serif";
const FS_TICK = 20;   // axis tick labels
const FS = 21;        // titles, row labels, annotations
const LIGHT_BLUE = '#00B0F0';
const DARK_BLUE = '#0070C0';
const ORANGE = '#ED7D31';
const TRACE_GREY = '#BFBFBF';
const GRID_GREY = '#D9D9D9';

const COL_LEFT = [276, 644];
const COL_W = [263, 264];
const ROW_TOP = [59, 313, 568];
const ROW_H = [218, 218, 210];

const PANELS = [
  {row: 0, col: 0, traces: TRACES_A_END,  mean: MEAN_A_END,  color: LIGHT_BLUE, n: 'n = 7',  nPos: [277, 45]},
  {row: 0, col: 1, traces: TRACES_A_SOMA, mean: MEAN_A_SOMA, color: DARK_BLUE,  n: 'n = 4',  nPos: [644, 45]},
  {row: 1, col: 0, traces: TRACES_B_END,  mean: MEAN_B_END,  color: LIGHT_BLUE, n: 'n = 8',  nPos: [282, 332]},
  {row: 1, col: 1, traces: TRACES_B_SOMA, mean: MEAN_B_SOMA, color: DARK_BLUE,  n: 'n = 8',  nPos: [651, 335]},
  {row: 2, col: 0, traces: TRACES_C_END,  mean: MEAN_C_END,  color: LIGHT_BLUE, n: 'n = 8',  nPos: [280, 578]},
  {row: 2, col: 1, traces: TRACES_C_SOMA, mean: MEAN_C_SOMA, color: DARK_BLUE,  n: 'n = 10', nPos: [651, 581]}
];

// pair evenly spaced samples (0 … T_END s) with their values
const sampled = ys => ys.map((y, k) => [k * T_END / (ys.length - 1), y]);
const pair = (xs, ys) => xs.map((x, k) => [x, ys[k]]);
const tickStyle = {color: '#000', fontSize: FS_TICK, fontFamily: FONT};

const option = {
  animation: false,
  backgroundColor: '#fff',
  grid: [], xAxis: [], yAxis: [], series: [], graphic: []
};

PANELS.forEach((p, i) => {
  option.grid.push({
    left: COL_LEFT[p.col], top: ROW_TOP[p.row], width: COL_W[p.col], height: ROW_H[p.row],
    outerBoundsMode: 'none'
  });
  option.xAxis.push({
    type: 'value', gridIndex: i, min: 0, max: T_END, interval: 120,
    axisLine: {show: false}, axisTick: {show: false}, splitLine: {show: false},
    axisLabel: Object.assign({show: p.row === 2, margin: 15,
      formatter: v => X_TICKS.includes(v) ? String(v) : ''}, tickStyle)
  });
  option.yAxis.push({
    type: 'value', gridIndex: i, position: 'left',
    min: RATIO_TICKS[0], max: RATIO_TICKS[RATIO_TICKS.length - 1], interval: 15,
    axisLine: {show: false}, axisTick: {show: false},
    splitLine: {show: true, lineStyle: {color: GRID_GREY, width: 1.5}},
    axisLabel: Object.assign({margin: 19}, tickStyle)
  });
  option.yAxis.push({
    type: 'value', gridIndex: i, position: 'right',
    min: TEMP_TICKS[0], max: TEMP_TICKS[TEMP_TICKS.length - 1], interval: 5,
    axisLine: {show: false}, axisTick: {show: false}, splitLine: {show: false},
    axisLabel: Object.assign({margin: 18}, tickStyle)
  });

  // individual animals
  p.traces.forEach(tr => option.series.push({
    type: 'line', xAxisIndex: i, yAxisIndex: 2 * i, data: sampled(tr),
    symbol: 'none', silent: true, z: 1,
    lineStyle: {color: TRACE_GREY, width: 1}
  }));
  // mean response
  option.series.push({
    type: 'line', xAxisIndex: i, yAxisIndex: 2 * i, data: sampled(p.mean),
    symbol: 'none', silent: true, z: 2,
    lineStyle: {color: p.color, width: 7, cap: 'round', join: 'round'}
  });
  // temperature stimulus
  option.series.push({
    type: 'line', xAxisIndex: i, yAxisIndex: 2 * i + 1, data: pair(TEMP_TIME, TEMP_C),
    symbol: 'none', silent: true, z: 3, smooth: 0.15, smoothMonotone: 'x',
    lineStyle: {color: ORANGE, width: 5, cap: 'round', join: 'round'}
  });

  option.graphic.push({
    type: 'text', x: p.nPos[0], y: p.nPos[1],
    style: {text: p.n, font: `${FS_TICK}px ${FONT}`, fill: '#000', textAlign: 'left', textVerticalAlign: 'middle'}
  });
});

const txt = (text, x, y, extra) => Object.assign({
  type: 'text', x, y,
  style: Object.assign({text, font: `${FS}px ${FONT}`, fill: '#000', textAlign: 'left', textVerticalAlign: 'middle'}, extra || {})
});

option.graphic.push(
  txt('Sensory ending', 416, 19, {textAlign: 'center'}),
  txt('Soma', 779, 19, {textAlign: 'center'}),
  txt('A', 12, 48), txt('B', 12, 318), txt('C', 13, 567),
  txt('Wild type', 12, 170), txt('17°C-cultivated', 12, 192),
  txt('Wild type', 10, 411), txt('23°C-cultivated', 7, 435),
  txt('gcy-23 gcy-8 gcy-18', 6, 659, {font: `italic ${FS}px ${FONT}`}),
  txt('23°C-cultivated', 6, 681),
  txt('1°C', 165, 763),
  txt('Time (s)', 589, 840, {textAlign: 'center'}),
  {
    type: 'text', x: 194, y: 420, rotation: Math.PI / 2,
    style: {
      text: '(R – R{sub|0}) / R{sub|0} (%)',
      font: `${FS}px ${FONT}`, fill: '#000', textAlign: 'center', textVerticalAlign: 'middle',
      lineHeight: 26,
      rich: {sub: {fontSize: 14, fontFamily: FONT, lineHeight: 14, verticalAlign: 'bottom'}}
    }
  },
  {
    type: 'text', x: 983, y: 420, rotation: Math.PI / 2,
    style: {text: 'Temperature (°C)', font: `${FS}px ${FONT}`, fill: '#000', textAlign: 'center', textVerticalAlign: 'middle'}
  }
);

const chart = echarts.init(document.getElementById('chart'), null, {renderer: 'canvas'});
chart.setOption(option);
</script>
</body>
</html>
